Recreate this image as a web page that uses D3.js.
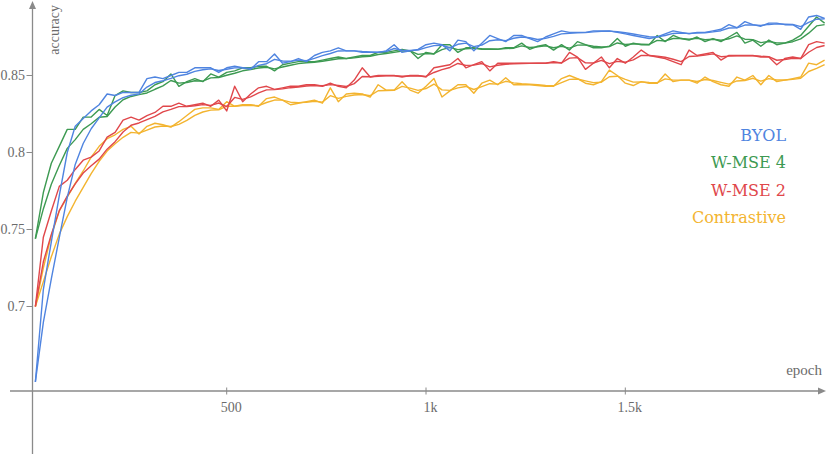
<!DOCTYPE html>
<html>
<head>
<meta charset="utf-8">
<script src="https://cdn.jsdelivr.net/npm/d3@7"></script>
<style>
  body { margin: 0; background: #fff; }
  svg { display: block; }
  text { font-family: "Liberation Serif", serif; fill: #6b6b6b; }
  .legend { font-family: "DejaVu Serif", serif; }
</style>
</head>
<body>
<div id="chart"></div>
<script>
// epochs sampled every 20
const epochs = [20,40,60,80,100,120,140,160,180,200,220,240,260,280,300,320,340,360,380,400,
  420,440,460,480,500,520,540,560,580,600,620,640,660,680,700,720,740,760,780,800,
  820,840,860,880,900,920,940,960,980,1000,1020,1040,1060,1080,1100,1120,1140,1160,1180,1200,
  1220,1240,1260,1280,1300,1320,1340,1360,1380,1400,1420,1440,1460,1480,1500,1520,1540,1560,1580,1600,
  1620,1640,1660,1680,1700,1720,1740,1760,1780,1800,1820,1840,1860,1880,1900,1920,1940,1960,1980,2000];

const byol = [.651,.711,.742,.772,.800,.817,.822,.827,.831,.838,.837,.839,.839,.839,.848,.849,.848,.850,.852,.852,
  .855,.855,.855,.852,.855,.856,.855,.854,.859,.859,.864,.858,.859,.861,.859,.863,.865,.866,.868,.866,
  .866,.865,.865,.865,.866,.870,.865,.866,.867,.870,.871,.870,.866,.873,.872,.866,.871,.876,.874,.872,
  .876,.876,.874,.872,.875,.877,.879,.878,.878,.878,.879,.879,.879,.878,.877,.876,.875,.874,.875,.877,
  .879,.878,.877,.878,.878,.879,.880,.883,.881,.885,.883,.882,.884,.884,.883,.883,.880,.888,.889,.887];

const wmse4 = [.744,.774,.793,.804,.815,.815,.823,.823,.828,.824,.837,.840,.839,.839,.840,.844,.846,.851,.843,.846,
  .848,.846,.851,.849,.852,.853,.855,.855,.856,.856,.853,.857,.858,.859,.859,.859,.860,.861,.862,.861,
  .862,.863,.863,.865,.865,.866,.867,.866,.861,.865,.864,.870,.870,.865,.868,.868,.867,.867,.867,.868,
  .868,.871,.867,.869,.870,.8665,.870,.8665,.872,.870,.868,.868,.869,.874,.869,.871,.870,.870,.876,.872,
  .876,.874,.873,.875,.872,.874,.872,.875,.878,.871,.873,.869,.873,.870,.871,.873,.876,.882,.888,.884];

const wmse2 = [.700,.745,.762,.778,.782,.789,.795,.797,.801,.810,.813,.821,.823,.821,.824,.826,.830,.830,.832,.830,
  .831,.832,.830,.834,.827,.843,.833,.838,.842,.843,.841,.842,.843,.843,.844,.844,.843,.845,.843,.842,
  .847,.855,.849,.850,.850,.850,.849,.850,.850,.849,.855,.856,.857,.861,.855,.857,.859,.853,.858,.858,
  .858,.858,.858,.858,.858,.859,.858,.865,.862,.854,.858,.862,.855,.861,.858,.862,.8665,.863,.862,.861,
  .859,.857,.8665,.863,.864,.865,.860,.863,.863,.863,.863,.862,.862,.857,.861,.862,.861,.870,.872,.871];

const contrastive = [.700,.725,.746,.762,.771,.780,.788,.797,.804,.809,.8115,.815,.817,.812,.817,.819,.818,.8165,.820,.824,
  .828,.829,.829,.828,.833,.830,.831,.831,.830,.835,.836,.834,.831,.832,.833,.834,.832,.842,.833,.838,
  .8385,.838,.836,.844,.8405,.8405,.846,.8405,.8385,.843,.848,.836,.840,.844,.844,.8385,.845,.847,.844,.8485,
  .844,.844,.844,.8435,.843,.843,.848,.850,.848,.845,.844,.846,.8535,.850,.845,.8435,.846,.845,.845,.851,
  .846,.847,.847,.845,.849,.846,.844,.843,.849,.847,.850,.844,.850,.846,.847,.848,.849,.858,.857,.860];

const seriesNames = ["BYOL", "W-MSE 4", "W-MSE 2", "Contrastive"];
const seriesColors = ["#4f84e0", "#3d9a52", "#e0474b", "#f3b42f"];
const yTicks = [0.7, 0.75, 0.8, 0.85];
const xTicks = [500, 1000, 1500];
const xTickLabels = ["500", "1k", "1.5k"];

const width = 830, height = 454;
const axisX = 32.5, axisY = 391;

const svg = d3.select("#chart").append("svg")
  .attr("width", width)
  .attr("height", height);

const x = d3.scaleLinear().domain([0, 2000]).range([27.4, 824.6]);
const y = d3.scaleLinear().domain([0.7, 0.85]).range([306.5, 75.5]);

// display smoothing, same as the training dashboard
function smooth(vals, w) {
  let last = 0, out = [];
  vals.forEach((v, i) => {
    last = last * w + (1 - w) * v;
    out.push(last / (1 - Math.pow(w, i + 1)));
  });
  return out;
}

const allSeries = [byol, wmse4, wmse2, contrastive];
const line = d3.line().x(d => x(d[0])).y(d => y(d[1]));

// draw from back to front: contrastive first
[3, 2, 1, 0].forEach(i => {
  const raw = allSeries[i];
  const sm = smooth(raw, 0.55);
  [raw, sm].forEach(vals => {
    svg.append("path")
      .datum(epochs.map((e, j) => [e, vals[j]]))
      .attr("fill", "none")
      .attr("stroke", seriesColors[i])
      .attr("stroke-width", 1.4)
      .attr("stroke-linejoin", "round")
      .attr("d", line);
  });
});

// axes
const axisColor = "#8a8a8a";
svg.append("line")
  .attr("x1", 10).attr("x2", 820)
  .attr("y1", axisY).attr("y2", axisY)
  .attr("stroke", axisColor).attr("stroke-width", 1.3);
svg.append("path")
  .attr("d", `M826,${axisY} L818,${axisY - 3.5} L818,${axisY + 3.5} Z`)
  .attr("fill", axisColor);

svg.append("line")
  .attr("x1", axisX).attr("x2", axisX)
  .attr("y1", 8).attr("y2", height)
  .attr("stroke", axisColor).attr("stroke-width", 1.3);
svg.append("path")
  .attr("d", `M${axisX},1 L${axisX - 3.5},9 L${axisX + 3.5},9 Z`)
  .attr("fill", axisColor);

// y ticks
const yt = svg.selectAll(".ytick").data(yTicks).enter().append("g")
  .attr("transform", d => `translate(${axisX},${y(d)})`);
yt.append("line").attr("x1", -6).attr("x2", 0).attr("stroke", axisColor).attr("stroke-width", 1);
yt.append("text")
  .attr("x", -7.5).attr("dy", "0.33em")
  .attr("text-anchor", "end")
  .style("font-size", "14px")
  .text(d => d3.format(".2~f")(d));

// x ticks
const xt = svg.selectAll(".xtick").data(xTicks).enter().append("g")
  .attr("transform", d => `translate(${x(d)},${axisY})`);
xt.append("line").attr("y1", -3.5).attr("y2", 3.5).attr("stroke", axisColor).attr("stroke-width", 1);
xt.append("text")
  .attr("x", 4.5).attr("y", 20.5)
  .attr("text-anchor", "middle")
  .style("font-size", "14px")
  .text((d, i) => xTickLabels[i]);

// axis titles
svg.append("text")
  .attr("transform", "translate(59,5) rotate(-90)")
  .attr("text-anchor", "end")
  .style("font-size", "14px")
  .text("accuracy");
svg.append("text")
  .attr("x", 822).attr("y", 375)
  .attr("text-anchor", "end")
  .style("font-size", "15px")
  .text("epoch");

// legend
svg.selectAll(".legend").data(seriesNames).enter().append("text")
  .attr("class", "legend")
  .attr("x", 786)
  .attr("y", (d, i) => 140.5 + i * 27.6)
  .attr("text-anchor", "end")
  .style("font-size", "16px")
  .style("fill", (d, i) => seriesColors[i])
  .text(d => d);
</script>
</body>
</html>
